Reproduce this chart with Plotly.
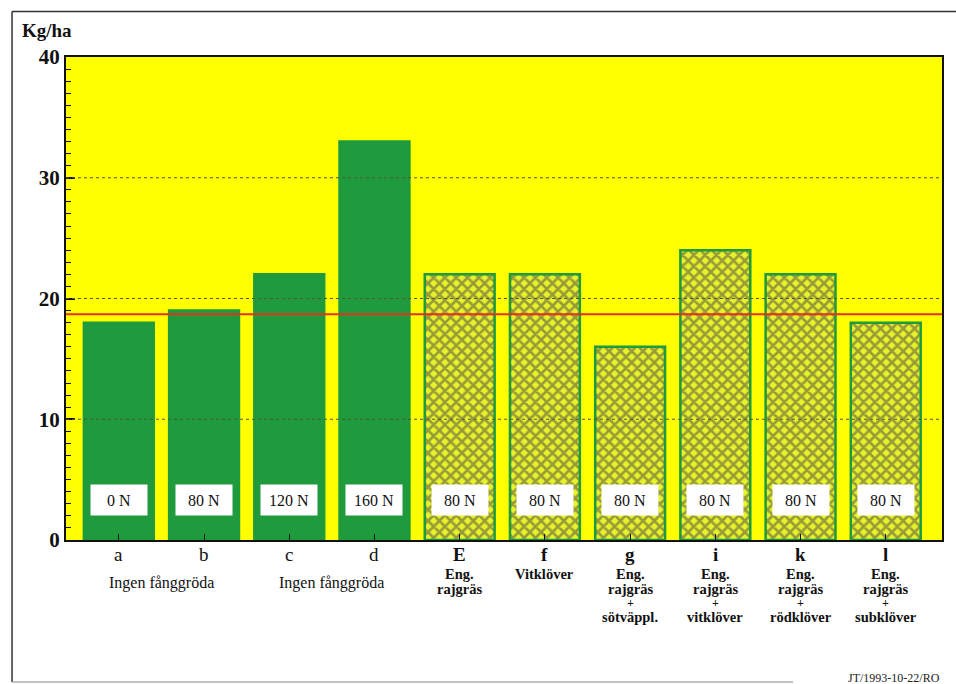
import plotly.graph_objects as go

# ---- data ----
categories = ["a", "b", "c", "d", "E", "f", "g", "i", "k", "l"]
values = [18, 19, 22, 33, 22, 22, 16, 24, 22, 18]
n_labels = ["0 N", "80 N", "120 N", "160 N", "80 N", "80 N", "80 N", "80 N", "80 N", "80 N"]
descriptions = [[], [], [], [], ["Eng.", "rajgräs"], ["Vitklöver"],
                ["Eng.", "rajgräs", "+", "sötväppl."], ["Eng.", "rajgräs", "+", "vitklöver"],
                ["Eng.", "rajgräs", "+", "rödklöver"], ["Eng.", "rajgräs", "+", "subklöver"]]
group_labels = ["Ingen fånggröda", "Ingen fånggröda"]
group_pos = [0.5, 2.5]
catch_crop = [False, False, False, False, True, True, True, True, True, True]
reference_level = 18.7
y_ticks = [0, 10, 20, 30, 40]

DARK = "#1f9a3c"
LIGHT = "#e8f22a"
YELLOW = "#ffff00"
SERIF = "Liberation Serif, Times New Roman, serif"

x = list(range(len(categories)))

fig = go.Figure()
fig.add_trace(go.Bar(
    x=x, y=values, width=0.82,
    marker=dict(
        color=[LIGHT if c else DARK for c in catch_crop],
        line=dict(color=DARK, width=2.5),
        pattern=dict(shape=["x" if c else "" for c in catch_crop],
                     fgcolor=DARK, size=8, solidity=0.55, fillmode="overlay"),
    ),
    hoverinfo="x+y",
))

# grid lines (dotted, above bars)
for yv in y_ticks[1:-1]:
    fig.add_shape(type="line", xref="paper", x0=0, x1=1, yref="y", y0=yv, y1=yv,
                  line=dict(color="#555533", width=1.2, dash="dot"), layer="above")

# red reference line
fig.add_shape(type="line", xref="paper", x0=0, x1=1, yref="y",
              y0=reference_level, y1=reference_level,
              line=dict(color="#e8301e", width=2), layer="above")

# outer frame (left, top, bottom)
fig.add_shape(type="line", xref="paper", yref="paper", x0=-0.0616, x1=-0.0616, y0=-0.294, y1=1.094,
              line=dict(color="#333", width=1.5))
fig.add_shape(type="line", xref="paper", yref="paper", x0=-0.0616, x1=1.02, y0=1.094, y1=1.094,
              line=dict(color="#333", width=1.5))
fig.add_shape(type="line", xref="paper", yref="paper", x0=-0.0616, x1=0.83, y0=-0.294, y1=-0.294,
              line=dict(color="#888", width=1))

ann = []
# N labels in white boxes
for i, t in enumerate(n_labels):
    ann.append(dict(x=i, y=3.3, xref="x", yref="y", text=t, showarrow=False,
                    font=dict(family=SERIF, size=16, color="#111"),
                    bgcolor="white", width=54, height=28, align="center"))

# category letters
for i, c in enumerate(categories):
    ann.append(dict(x=i, y=-(554 - 540) / 483, xref="x", yref="paper",
                    text=("<b>%s</b>" % c) if catch_crop[i] else c, borderpad=0,
                    showarrow=False, font=dict(family=SERIF, size=19, color="#111"),
                    yanchor="middle"))

# descriptions, one annotation per line (tight line spacing like the original)
line_px = [574, 589, 603, 617]
line_size = [14.5, 14.5, 12, 14.5]
for i, lines in enumerate(descriptions):
    for j, t in enumerate(lines):
        ann.append(dict(x=i, y=-(line_px[j] - 540) / 483, xref="x", yref="paper",
                        text="<b>%s</b>" % t, showarrow=False, borderpad=0,
                        font=dict(family=SERIF, size=line_size[j], color="#111"),
                        yanchor="middle", align="center"))
for p, g in zip(group_pos, group_labels):
    ann.append(dict(x=p, y=-0.089, xref="x", yref="paper", text=g, showarrow=False,
                    font=dict(family=SERIF, size=16, color="#111"), yanchor="middle"))

# unit label
ann.append(dict(x=-0.053, y=1.055, xref="paper", yref="paper", text="<b>Kg/ha</b>",
                showarrow=False, xanchor="left", yanchor="middle",
                font=dict(family=SERIF, size=19, color="#111")))
# footer
ann.append(dict(x=1.0, y=-0.285, xref="paper", yref="paper", text="JT/1993-10-22/RO",
                showarrow=False, xanchor="right", yanchor="middle",
                font=dict(family=SERIF, size=12, color="#222")))

fig.update_layout(
    width=956, height=684,
    margin=dict(l=66, r=14, t=57, b=144),
    paper_bgcolor="white", plot_bgcolor=YELLOW,
    showlegend=False, bargap=0.18,
    annotations=ann,
    font=dict(family=SERIF),
)
fig.update_xaxes(range=[-0.62, 9.66], showticklabels=False, showgrid=False, zeroline=False,
                 tickvals=x, ticks="inside", ticklen=6, tickcolor="#111",
                 showline=True, linecolor="#111", linewidth=2, mirror=True)
fig.update_yaxes(range=[0, 40], tickvals=y_ticks, ticktext=["<b>%d</b>" % v for v in y_ticks],
                 ticks="inside", ticklen=9, tickwidth=1.5,
                 tickcolor="#111", showgrid=False, zeroline=False,
                 tickfont=dict(family=SERIF, size=21, color="#111"),
                 showline=True, linecolor="#111", linewidth=2, mirror=True,
                 minor=dict(dtick=1, ticks="inside", ticklen=5, tickcolor="#111", tickwidth=1.2))

fig.write_html("out.html")
